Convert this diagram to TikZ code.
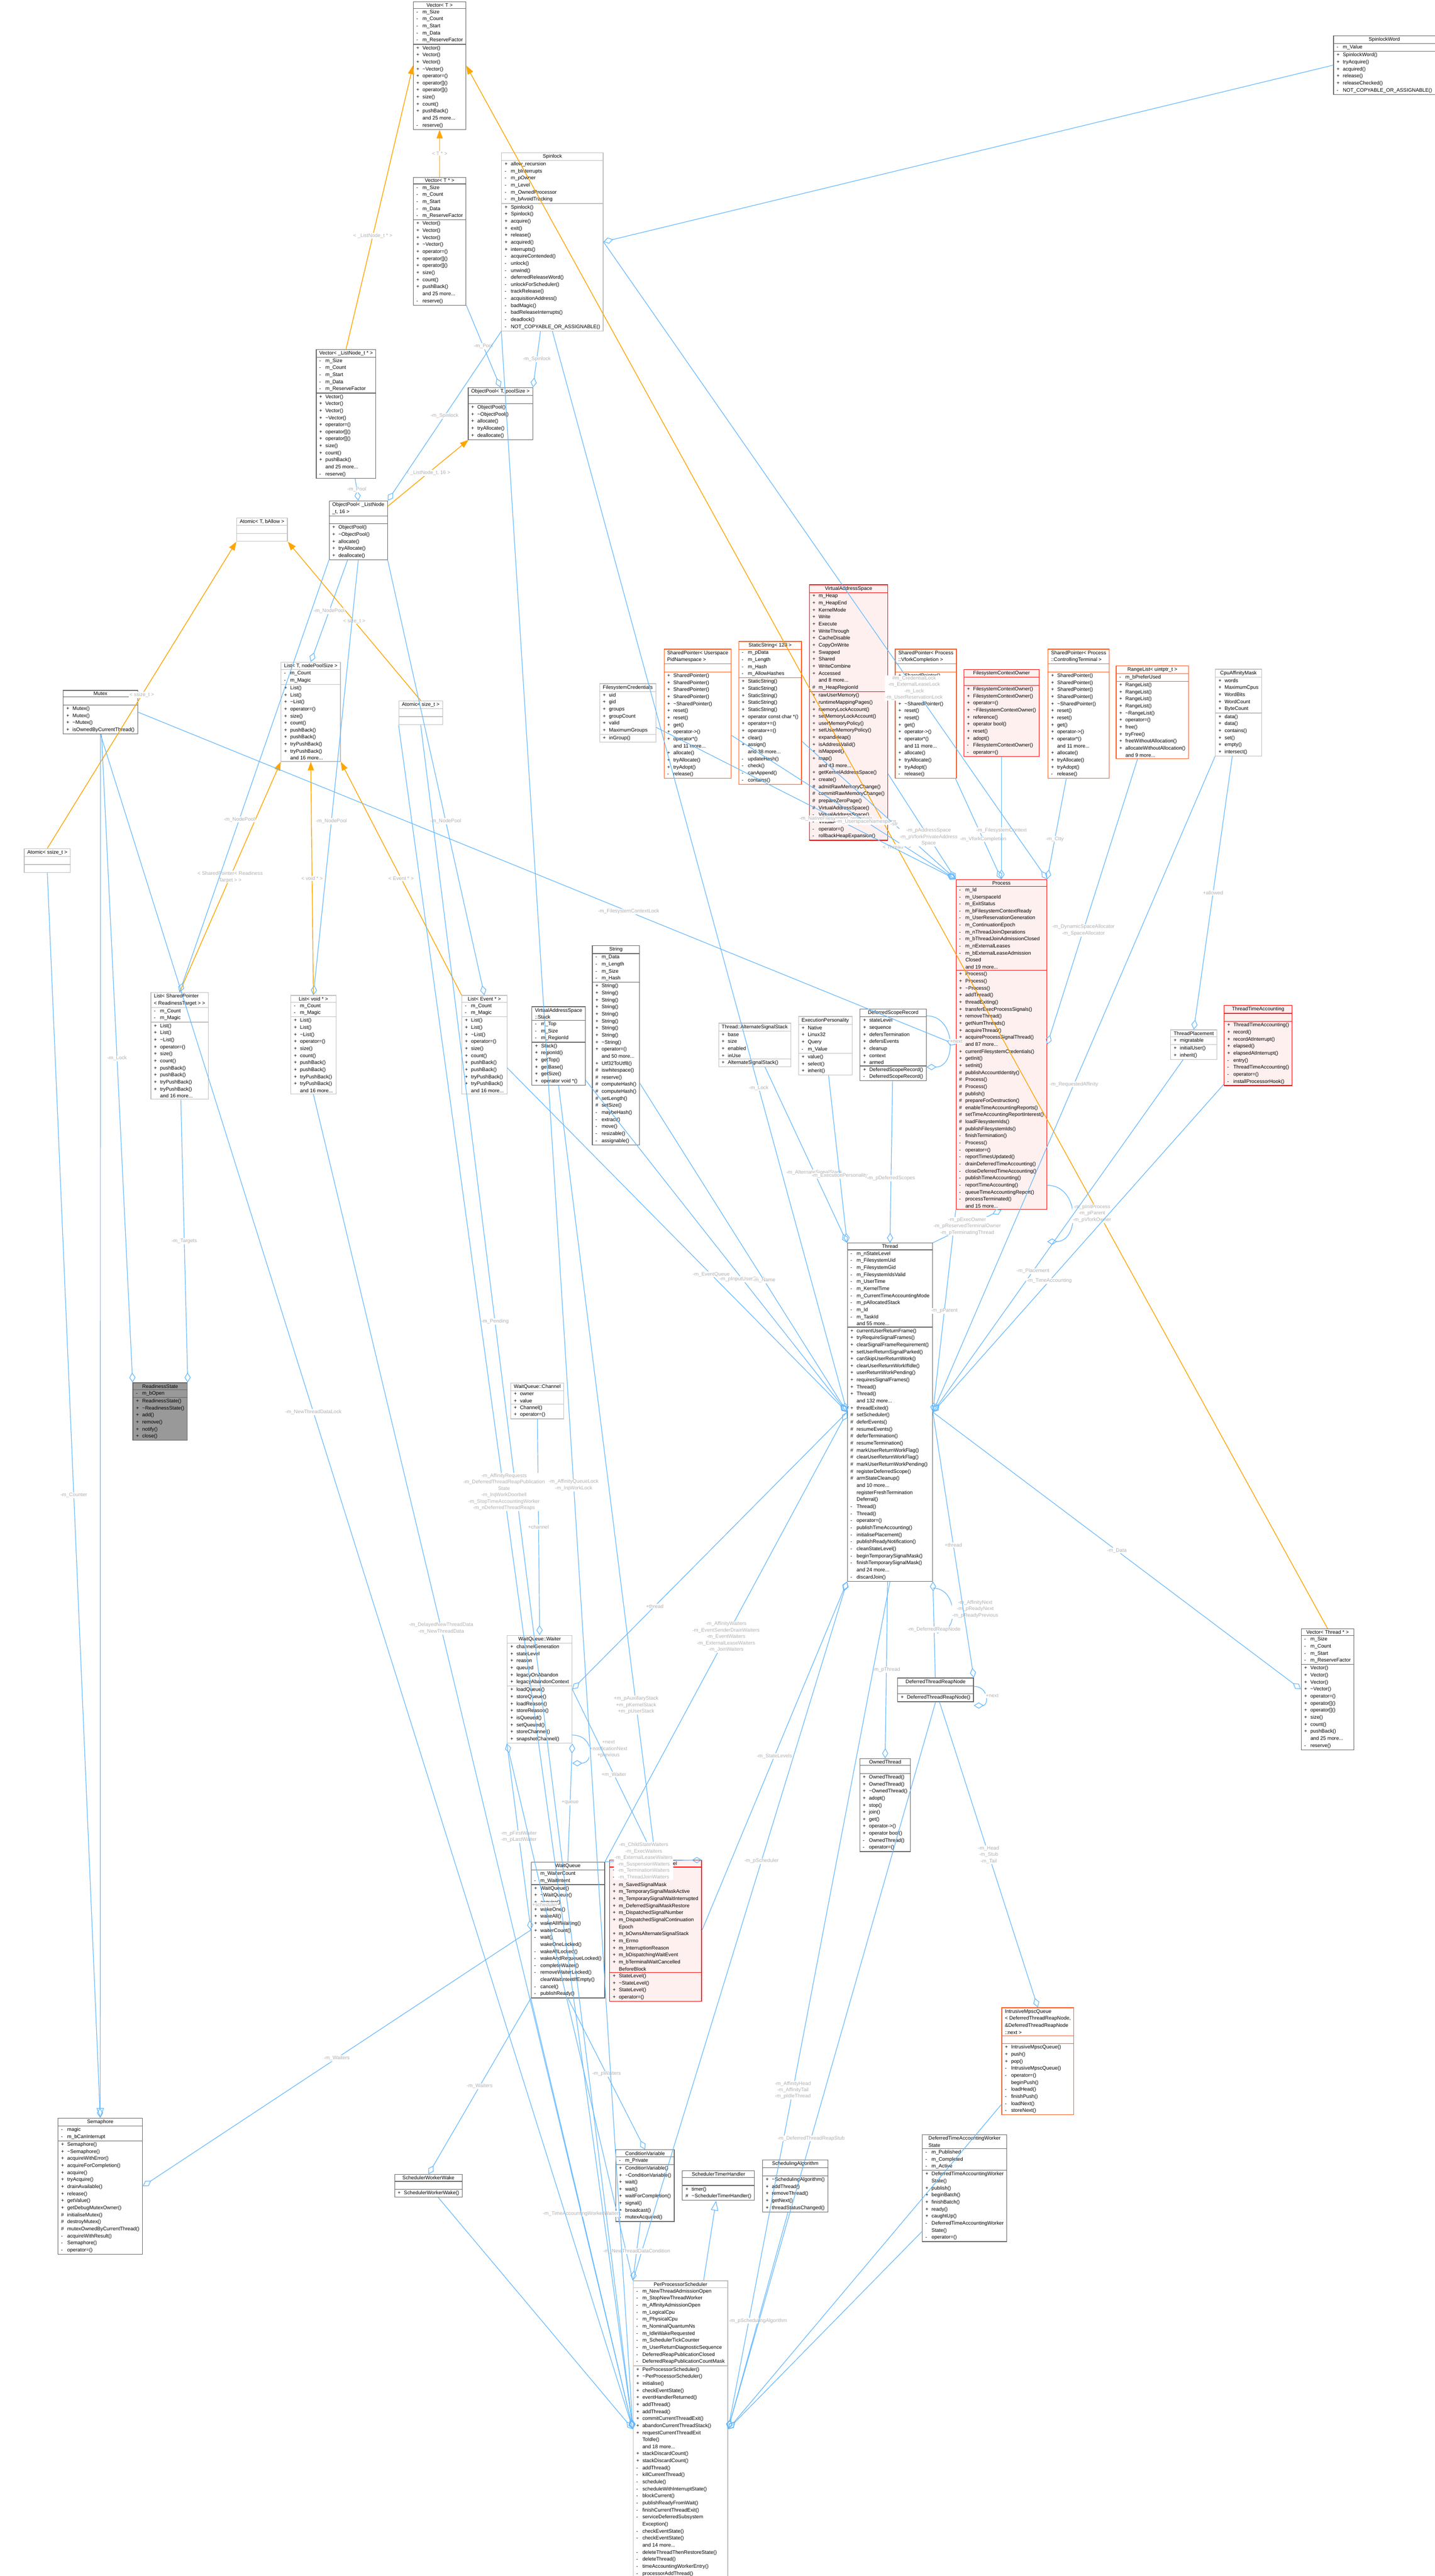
\documentclass[tikz,border=0pt]{standalone}
\usepackage{fontspec}
\setmainfont{Liberation Sans}
\usepackage{tikz}
\usepackage{xcolor}
\usetikzlibrary{arrows.meta, positioning, shapes.multipart}

\definecolor{edgeblue}{HTML}{63B8FF}
\definecolor{boxdark}{HTML}{666666}
\definecolor{boxlight}{HTML}{BFBFBF}
\definecolor{labelgray}{HTML}{B0B0B0}
\definecolor{pinkfill}{HTML}{FFF0F0}
\definecolor{tmplorange}{HTML}{FFA500}
\definecolor{orangeline}{HTML}{FF5A1F}

\catcode`\_=12
\newcommand{\vP}{\makebox[5pt][l]{+}}
\newcommand{\vM}{\makebox[5pt][l]{-}}
\newcommand{\vH}{\makebox[5pt][l]{\#}}
\newcommand{\vN}{\hspace*{5pt}}
\newcommand{\tld}{\textasciitilde}
\newcommand{\emptypart}{\rule{0pt}{4pt}}
% class box: [style]{name}{x px}{y px}{title}{attributes}{methods}
\newcommand{\umlbox}[7][]{%
  \node[umlclass,#1] (#2) at (#3/100,-#4/100) {#5\nodepart{two}#6\nodepart{three}#7};}

\tikzset{
  umlclass/.style={rectangle split, rectangle split parts=3, draw=boxdark,
    anchor=north west, align=left, rectangle split part align={center,left,left},
    font=\fontsize{4.1}{5.69}\selectfont, inner xsep=2.5pt, inner ysep=1pt, line width=0.5pt},
  light/.style={draw=boxlight},
  redbox/.style={draw=red, fill=pinkfill},
  orangebox/.style={draw=orangeline},
  rootbox/.style={fill=black!40, draw=boxdark},
  agg/.style={draw=edgeblue, line width=0.5pt, -{Diamond[open,length=8pt,width=5pt]}},
  tmpl/.style={draw=tmplorange, line width=0.6pt, -{Triangle[length=7pt,width=5pt]}},
  inh/.style={draw=edgeblue, line width=0.5pt, -{Triangle[open,length=8pt,width=6pt]}},
  elabel/.style={font=\fontsize{4.1}{5.2}\selectfont, text=labelgray, align=center, fill=white, inner sep=0.5pt}
}

\begin{document}
\begin{tikzpicture}
    \fill[white] (0,0) rectangle (40.79,-73.21);
    \useasboundingbox (0,0) rectangle (40.79,-73.21);

    % Containers and templates
    \umlbox{vecT}{1174}{4}{Vector< T >}{\vM m_Size\\\vM m_Count\\\vM m_Start\\\vM m_Data\\\vM m_ReserveFactor}{\vP Vector()\\\vP Vector()\\\vP Vector()\\\vP \tld Vector()\\\vP operator=()\\\vP operator[]()\\\vP operator[]()\\\vP size()\\\vP count()\\\vP pushBack()\\\vN and 25 more...\\\vM reserve()}
    \umlbox{vecTp}{1174}{503}{Vector< T * >}{\vM m_Size\\\vM m_Count\\\vM m_Start\\\vM m_Data\\\vM m_ReserveFactor}{\vP Vector()\\\vP Vector()\\\vP Vector()\\\vP \tld Vector()\\\vP operator=()\\\vP operator[]()\\\vP operator[]()\\\vP size()\\\vP count()\\\vP pushBack()\\\vN and 25 more...\\\vM reserve()}
    \umlbox{vecLN}{898}{992}{Vector< _ListNode_t * >}{\vM m_Size\\\vM m_Count\\\vM m_Start\\\vM m_Data\\\vM m_ReserveFactor}{\vP Vector()\\\vP Vector()\\\vP Vector()\\\vP \tld Vector()\\\vP operator=()\\\vP operator[]()\\\vP operator[]()\\\vP size()\\\vP count()\\\vP pushBack()\\\vN and 25 more...\\\vM reserve()}
    \umlbox{vecThr}{3698}{4628}{Vector< Thread * >}{\vM m_Size\\\vM m_Count\\\vM m_Start\\\vM m_ReserveFactor}{\vP Vector()\\\vP Vector()\\\vP Vector()\\\vP \tld Vector()\\\vP operator=()\\\vP operator[]()\\\vP operator[]()\\\vP size()\\\vP count()\\\vP pushBack()\\\vN and 25 more...\\\vM reserve()}
    \umlbox[light]{spin}{1425}{433}{Spinlock}{\vP allow_recursion\\\vM m_bInterrupts\\\vM m_pOwner\\\vM m_Level\\\vM m_OwnedProcessor\\\vM m_bAvoidTracking}{\vP Spinlock()\\\vP Spinlock()\\\vP acquire()\\\vP exit()\\\vP release()\\\vP acquired()\\\vP interrupts()\\\vM acquireContended()\\\vM unlock()\\\vM unwind()\\\vM deferredReleaseWord()\\\vM unlockForScheduler()\\\vM trackRelease()\\\vM acquisitionAddress()\\\vM badMagic()\\\vM badReleaseInterrupts()\\\vM deadlock()\\\vM NOT_COPYABLE_OR_ASSIGNABLE()}
    \umlbox{spinWord}{3790}{101}{SpinlockWord}{\vM m_Value}{\vP SpinlockWord()\\\vP tryAcquire()\\\vP acquired()\\\vP release()\\\vP releaseChecked()\\\vM NOT_COPYABLE_OR_ASSIGNABLE()}
    \umlbox{poolT}{1330}{1101}{ObjectPool< T, poolSize >}{\emptypart}{\vP ObjectPool()\\\vP \tld ObjectPool()\\\vP allocate()\\\vP tryAllocate()\\\vP deallocate()}
    \umlbox{poolLN}{935}{1423}{ObjectPool< _ListNode\\_t, 16 >}{\emptypart}{\vP ObjectPool()\\\vP \tld ObjectPool()\\\vP allocate()\\\vP tryAllocate()\\\vP deallocate()}
    \umlbox[light]{atomT}{672}{1471}{Atomic< T, bAllow >}{\emptypart}{\emptypart}
    \umlbox[light]{atomZ}{1133}{1991}{Atomic< size_t >}{\emptypart}{\emptypart}
    \umlbox[light]{atomS}{68}{2411}{Atomic< ssize_t >}{\emptypart}{\emptypart}
    \umlbox[light]{listT}{798}{1881}{List< T, nodePoolSize >}{\vM m_Count\\\vM m_Magic}{\vP List()\\\vP List()\\\vP \tld List()\\\vP operator=()\\\vP size()\\\vP count()\\\vP pushBack()\\\vP pushBack()\\\vP tryPushBack()\\\vP tryPushBack()\\\vN and 16 more...}
    \umlbox[light]{listSP}{428}{2820}{List< SharedPointer\\< ReadinessTarget > >}{\vM m_Count\\\vM m_Magic}{\vP List()\\\vP List()\\\vP \tld List()\\\vP operator=()\\\vP size()\\\vP count()\\\vP pushBack()\\\vP pushBack()\\\vP tryPushBack()\\\vP tryPushBack()\\\vN and 16 more...}
    \umlbox[light]{listV}{826}{2828}{List< void * >}{\vM m_Count\\\vM m_Magic}{\vP List()\\\vP List()\\\vP \tld List()\\\vP operator=()\\\vP size()\\\vP count()\\\vP pushBack()\\\vP pushBack()\\\vP tryPushBack()\\\vP tryPushBack()\\\vN and 16 more...}
    \umlbox[light]{listE}{1312}{2828}{List< Event * >}{\vM m_Count\\\vM m_Magic}{\vP List()\\\vP List()\\\vP \tld List()\\\vP operator=()\\\vP size()\\\vP count()\\\vP pushBack()\\\vP pushBack()\\\vP tryPushBack()\\\vP tryPushBack()\\\vN and 16 more...}
    \umlbox{mutex}{179}{1961}{Mutex}{\emptypart}{\vP Mutex()\\\vP Mutex()\\\vP \tld Mutex()\\\vP isOwnedByCurrentThread()}
    \umlbox[rootbox]{ready}{377}{3929}{ReadinessState}{\vM m_bOpen}{\vP ReadinessState()\\\vP \tld ReadinessState()\\\vP add()\\\vP remove()\\\vP notify()\\\vP close()}

    % Process and its members
    \umlbox[light]{fsCred}{1704}{1942}{FilesystemCredentials}{\vP uid\\\vP gid\\\vP groups\\\vP groupCount\\\vP valid\\\vP MaximumGroups}{\vP inGroup()}
    \umlbox[orangebox]{spPid}{1887}{1844}{SharedPointer< Userspace\\PidNamespace >}{\emptypart}{\vP SharedPointer()\\\vP SharedPointer()\\\vP SharedPointer()\\\vP SharedPointer()\\\vP \tld SharedPointer()\\\vP reset()\\\vP reset()\\\vP get()\\\vP operator->()\\\vP operator*()\\\vN and 11 more...\\\vP allocate()\\\vP tryAllocate()\\\vP tryAdopt()\\\vM release()}
    \umlbox[orangebox]{statStr}{2099}{1822}{StaticString< 128 >}{\vM m_pData\\\vM m_Length\\\vM m_Hash\\\vM m_AllowHashes}{\vP StaticString()\\\vP StaticString()\\\vP StaticString()\\\vP StaticString()\\\vP StaticString()\\\vP operator const char *()\\\vP operator+=()\\\vP operator+=()\\\vP clear()\\\vP assign()\\\vN and 38 more...\\\vM updateHash()\\\vM check()\\\vM canAppend()\\\vM contains()}
    \umlbox[redbox]{vas}{2300}{1661}{VirtualAddressSpace}{\vP m_Heap\\\vP m_HeapEnd\\\vP KernelMode\\\vP Write\\\vP Execute\\\vP WriteThrough\\\vP CacheDisable\\\vP CopyOnWrite\\\vP Swapped\\\vP Shared\\\vP WriteCombine\\\vP Accessed\\\vN and 8 more...\\\vH m_HeapRegionId}{\vP rawUserMemory()\\\vP runtimeMappingPages()\\\vP memoryLockAccount()\\\vP setMemoryLockAccount()\\\vP userMemoryPolicy()\\\vP setUserMemoryPolicy()\\\vP expandHeap()\\\vP isAddressValid()\\\vP isMapped()\\\vP map()\\\vN and 43 more...\\\vP getKernelAddressSpace()\\\vP create()\\\vH admitRawMemoryChange()\\\vH commitRawMemoryChange()\\\vH prepareZeroPage()\\\vH VirtualAddressSpace()\\\vM VirtualAddressSpace()\\\vM VirtualAddressSpace()\\\vM operator=()\\\vM rollbackHeapExpansion()}
    \umlbox[orangebox]{spVfork}{2544}{1844}{SharedPointer< Process\\::VforkCompletion >}{\emptypart}{\vP SharedPointer()\\\vP SharedPointer()\\\vP SharedPointer()\\\vP SharedPointer()\\\vP \tld SharedPointer()\\\vP reset()\\\vP reset()\\\vP get()\\\vP operator->()\\\vP operator*()\\\vN and 11 more...\\\vP allocate()\\\vP tryAllocate()\\\vP tryAdopt()\\\vM release()}
    \umlbox[redbox]{fsOwner}{2739}{1902}{FilesystemContextOwner}{\emptypart}{\vP FilesystemContextOwner()\\\vP FilesystemContextOwner()\\\vP operator=()\\\vP \tld FilesystemContextOwner()\\\vP reference()\\\vP operator bool()\\\vP reset()\\\vP adopt()\\\vM FilesystemContextOwner()\\\vM operator=()}
    \umlbox[orangebox]{spCtty}{2978}{1844}{SharedPointer< Process\\::ControllingTerminal >}{\emptypart}{\vP SharedPointer()\\\vP SharedPointer()\\\vP SharedPointer()\\\vP SharedPointer()\\\vP \tld SharedPointer()\\\vP reset()\\\vP reset()\\\vP get()\\\vP operator->()\\\vP operator*()\\\vN and 11 more...\\\vP allocate()\\\vP tryAllocate()\\\vP tryAdopt()\\\vM release()}
    \umlbox[orangebox]{range}{3172}{1891}{RangeList< uintptr_t >}{\vM m_bPreferUsed}{\vP RangeList()\\\vP RangeList()\\\vP RangeList()\\\vP RangeList()\\\vP \tld RangeList()\\\vP operator=()\\\vP free()\\\vP tryFree()\\\vP freeWithoutAllocation()\\\vP allocateWithoutAllocation()\\\vN and 9 more...}
    \umlbox[light]{cpuMask}{3454}{1901}{CpuAffinityMask}{\vP words\\\vP MaximumCpus\\\vP WordBits\\\vP WordCount\\\vP ByteCount}{\vP data()\\\vP data()\\\vP contains()\\\vP set()\\\vP empty()\\\vP intersect()}
    \umlbox[redbox]{proc}{2717}{2499}{Process}{\vM m_Id\\\vM m_UserspaceId\\\vM m_ExitStatus\\\vM m_bFilesystemContextReady\\\vM m_UserReservationGeneration\\\vM m_ContinuationEpoch\\\vM m_nThreadJoinOperations\\\vM m_bThreadJoinAdmissionClosed\\\vM m_nExternalLeases\\\vM m_bExternalLeaseAdmission\\\vN Closed\\\vN and 19 more...}{\vP Process()\\\vP Process()\\\vP \tld Process()\\\vP addThread()\\\vP threadExiting()\\\vP transferExecProcessSignals()\\\vP removeThread()\\\vP getNumThreads()\\\vP acquireThread()\\\vP acquireProcessSignalThread()\\\vN and 87 more...\\\vP currentFilesystemCredentials()\\\vP getInit()\\\vP setInit()\\\vH publishAccountIdentity()\\\vH Process()\\\vH Process()\\\vH publish()\\\vH prepareForDestruction()\\\vH enableTimeAccountingReports()\\\vH setTimeAccountingReportInterest()\\\vH loadFilesystemIds()\\\vH publishFilesystemIds()\\\vM finishTermination()\\\vM Process()\\\vM operator=()\\\vM reportTimesUpdated()\\\vM drainDeferredTimeAccounting()\\\vM closeDeferredTimeAccounting()\\\vM publishTimeAccounting()\\\vM reportTimeAccounting()\\\vM queueTimeAccountingReport()\\\vM processTerminated()\\\vN and 15 more...}
    \umlbox[light]{placement}{3327}{2926}{ThreadPlacement}{\vP migratable}{\vP initialUser()\\\vP inherit()}
    \umlbox[redbox]{timeAcc}{3479}{2857}{ThreadTimeAccounting}{\emptypart}{\vP ThreadTimeAccounting()\\\vP record()\\\vP recordAtInterrupt()\\\vP elapsed()\\\vP elapsedAtInterrupt()\\\vM entry()\\\vM ThreadTimeAccounting()\\\vM operator=()\\\vM installProcessorHook()}

    % Thread and its members
    \umlbox{vStack}{1511}{2860}{VirtualAddressSpace\\::Stack}{\vM m_Top\\\vM m_Size\\\vM m_RegionId}{\vP Stack()\\\vP regionId()\\\vP getTop()\\\vP getBase()\\\vP getSize()\\\vP operator void *()}
    \umlbox{str}{1683}{2687}{String}{\vM m_Data\\\vM m_Length\\\vM m_Size\\\vM m_Hash}{\vP String()\\\vP String()\\\vP String()\\\vP String()\\\vP String()\\\vP String()\\\vP String()\\\vP String()\\\vP \tld String()\\\vP operator=()\\\vN and 50 more...\\\vP Utf32ToUtf8()\\\vH iswhitespace()\\\vH reserve()\\\vH computeHash()\\\vH computeHash()\\\vH setLength()\\\vH setSize()\\\vM maybeHash()\\\vM extract()\\\vM move()\\\vM resizable()\\\vM assignable()}
    \umlbox[light]{altStack}{2042}{2907}{Thread::AlternateSignalStack}{\vP base\\\vP size\\\vP enabled\\\vP inUse}{\vP AlternateSignalStack()}
    \umlbox[light]{execPers}{2269}{2888}{ExecutionPersonality}{\vP Native\\\vP Linux32\\\vP Query\\\vM m_Value}{\vP value()\\\vP select()\\\vP inherit()}
    \umlbox{scopeRec}{2444}{2867}{DeferredScopeRecord}{\vP stateLevel\\\vP sequence\\\vP defersTermination\\\vP defersEvents\\\vP cleanup\\\vP context\\\vP armed}{\vP DeferredScopeRecord()\\\vM DeferredScopeRecord()}
    \umlbox{thread}{2408}{3532}{Thread}{\vM m_nStateLevel\\\vM m_FilesystemUid\\\vM m_FilesystemGid\\\vM m_FilesystemIdsValid\\\vM m_UserTime\\\vM m_KernelTime\\\vM m_CurrentTimeAccountingMode\\\vM m_pAllocatedStack\\\vM m_Id\\\vM m_TaskId\\\vN and 55 more...}{\vP currentUserReturnFrame()\\\vP tryRequireSignalFrames()\\\vP clearSignalFrameRequirement()\\\vP setUserReturnSignalParked()\\\vP canSkipUserReturnWork()\\\vP clearUserReturnWorkIfIdle()\\\vP userReturnWorkPending()\\\vP requiresSignalFrames()\\\vP Thread()\\\vP Thread()\\\vN and 132 more...\\\vP threadExited()\\\vH setScheduler()\\\vH deferEvents()\\\vH resumeEvents()\\\vH deferTermination()\\\vH resumeTermination()\\\vH markUserReturnWorkFlag()\\\vH clearUserReturnWorkFlag()\\\vH markUserReturnWorkPending()\\\vH registerDeferredScope()\\\vH armStateCleanup()\\\vN and 10 more...\\\vN registerFreshTermination\\\vN Deferral()\\\vM Thread()\\\vM Thread()\\\vM operator=()\\\vM publishTimeAccounting()\\\vM initialisePlacement()\\\vM publishReadyNotification()\\\vM cleanStateLevel()\\\vM beginTemporarySignalMask()\\\vM finishTemporarySignalMask()\\\vN and 24 more...\\\vM discardJoin()}
    \umlbox{reapNode}{2551}{4768}{DeferredThreadReapNode}{\emptypart}{\vP DeferredThreadReapNode()}
    \umlbox{owned}{2443}{4997}{OwnedThread}{\emptypart}{\vP OwnedThread()\\\vP OwnedThread()\\\vP \tld OwnedThread()\\\vP adopt()\\\vP stop()\\\vP join()\\\vP get()\\\vP operator->()\\\vP operator bool()\\\vM OwnedThread()\\\vM operator=()}
    \umlbox[orangebox]{mpsc}{2847}{5705}{IntrusiveMpscQueue\\< DeferredThreadReapNode,\\ \&DeferredThreadReapNode\\::next >}{\emptypart}{\vP IntrusiveMpscQueue()\\\vP push()\\\vP pop()\\\vM IntrusiveMpscQueue()\\\vM operator=()\\\vN beginPush()\\\vM loadHead()\\\vM finishPush()\\\vM loadNext()\\\vM storeNext()}

    % Waiting
    \umlbox[light]{channel}{1451}{3930}{WaitQueue::Channel}{\vP owner\\\vP value}{\vP Channel()\\\vP operator=()}
    \umlbox[light]{waiter}{1441}{4647}{WaitQueue::Waiter}{\vP channelGeneration\\\vP stateLevel\\\vP reason\\\vP queued\\\vP legacyOnAbandon\\\vP legacyAbandonContext}{\vP loadQueue()\\\vP storeQueue()\\\vP loadReason()\\\vP storeReason()\\\vP isQueued()\\\vP setQueued()\\\vP storeChannel()\\\vP snapshotChannel()}
    \umlbox{waitQ}{1509}{5291}{WaitQueue}{\vN m_WaiterCount\\\vM m_WaitIntent}{\vP WaitQueue()\\\vP \tld WaitQueue()\\\vP acquire()\\\vP wakeOne()\\\vP wakeAll()\\\vP wakeAllIfWaiting()\\\vP waiterCount()\\\vM wait()\\\vN wakeOneLocked()\\\vM wakeAllLocked()\\\vM wakeAndRequeueLocked()\\\vM completeWaiter()\\\vM removeWaiterLocked()\\\vN clearWaitIntentIfEmpty()\\\vM cancel()\\\vM publishReady()}
    \umlbox[redbox]{stateLvl}{1732}{5286}{Thread::StateLevel}{\vP m_State\\\vP m_SignalMask\\\vP m_SavedSignalMask\\\vP m_TemporarySignalMaskActive\\\vP m_TemporarySignalWaitInterrupted\\\vP m_DeferredSignalMaskRestore\\\vP m_DispatchedSignalNumber\\\vP m_DispatchedSignalContinuation\\\vN Epoch\\\vP m_bOwnsAlternateSignalStack\\\vP m_Errno\\\vP m_InterruptionReason\\\vP m_bDispatchingWaitEvent\\\vP m_bTerminalWaitCancelled\\\vN BeforeBlock}{\vP StateLevel()\\\vP \tld StateLevel()\\\vP StateLevel()\\\vP operator=()}
    \umlbox{sema}{164}{6019}{Semaphore}{\vM magic\\\vM m_bCanInterrupt}{\vP Semaphore()\\\vP \tld Semaphore()\\\vP acquireWithError()\\\vP acquireForCompletion()\\\vP acquire()\\\vP tryAcquire()\\\vP drainAvailable()\\\vP release()\\\vP getValue()\\\vP getDebugMutexOwner()\\\vH initialiseMutex()\\\vH destroyMutex()\\\vH mutexOwnedByCurrentThread()\\\vM acquireWithResult()\\\vM Semaphore()\\\vM operator=()}
    \umlbox{wake}{1121}{6179}{SchedulerWorkerWake}{\emptypart}{\vP SchedulerWorkerWake()}

    % Scheduler
    \umlbox{condVar}{1750}{6109}{ConditionVariable}{\vM m_Private}{\vP ConditionVariable()\\\vP \tld ConditionVariable()\\\vP wait()\\\vP wait()\\\vP waitForCompletion()\\\vP signal()\\\vP broadcast()\\\vP mutexAcquired()}
    \umlbox{timerHandler}{1939}{6168}{SchedulerTimerHandler}{\emptypart}{\vP timer()\\\vH \tld SchedulerTimerHandler()}
    \umlbox{schedAlgo}{2167}{6138}{SchedulingAlgorithm}{\emptypart}{\vP \tld SchedulingAlgorithm()\\\vP addThread()\\\vP removeThread()\\\vP getNext()\\\vP threadStatusChanged()}
    \umlbox{workerState}{2621}{6066}{DeferredTimeAccountingWorker\\State}{\vM m_Published\\\vM m_Completed\\\vM m_Active}{\vP DeferredTimeAccountingWorker\\\vN State()\\\vP publish()\\\vP beginBatch()\\\vP finishBatch()\\\vP ready()\\\vP caughtUp()\\\vM DeferredTimeAccountingWorker\\\vN State()\\\vM operator=()}
    \umlbox[light]{sched}{1799}{6481}{PerProcessorScheduler}{\vM m_NewThreadAdmissionOpen\\\vM m_StopNewThreadWorker\\\vM m_AffinityAdmissionOpen\\\vM m_LogicalCpu\\\vM m_PhysicalCpu\\\vM m_NominalQuantumNs\\\vM m_IdleWakeRequested\\\vM m_SchedulerTickCounter\\\vM m_UserReturnDiagnosticSequence\\\vM DeferredReapPublicationClosed\\\vM DeferredReapPublicationCountMask}{\vP PerProcessorScheduler()\\\vP \tld PerProcessorScheduler()\\\vP initialise()\\\vP checkEventState()\\\vP eventHandlerReturned()\\\vP addThread()\\\vP addThread()\\\vP commitCurrentThreadExit()\\\vP abandonCurrentThreadStack()\\\vP requestCurrentThreadExit\\\vN ToIdle()\\\vN and 18 more...\\\vP stackDiscardCount()\\\vP stackDiscardCount()\\\vM addThread()\\\vM killCurrentThread()\\\vM schedule()\\\vM scheduleWithInterruptState()\\\vM blockCurrent()\\\vM publishReadyFromWait()\\\vM finishCurrentThreadExit()\\\vM serviceDeferredSubsystem\\\vN Exception()\\\vM checkEventState()\\\vM checkEventState()\\\vN and 14 more...\\\vM deleteThreadThenRestoreState()\\\vM deleteThread()\\\vM timeAccountingWorkerEntry()\\\vM processorAddThread()}

    % Template instances
    \draw[tmpl] (vecTp) -- node[elabel]{< T * >} (vecT);
    \draw[tmpl] (vecLN.north) -- node[elabel,pos=0.4]{< _ListNode_t * >} (vecT.west);
    \draw[tmpl] (vecThr.north) -- node[elabel,pos=0.5]{< Thread * >} (vecT.east);
    \draw[tmpl] (poolLN) -- node[elabel]{< _ListNode_t, 16 >} (poolT);
    \draw[tmpl] (atomS.north) -- node[elabel]{< ssize_t >} (atomT.south west);
    \draw[tmpl] (atomZ.north) -- node[elabel]{< size_t >} (atomT.south east);
    \draw[tmpl] (listSP.north) -- node[elabel]{< SharedPointer< Readiness\\Target > >} (listT.south west);
    \draw[tmpl] (listV.north) -- node[elabel]{< void * >} (listT.south);
    \draw[tmpl] (listE.north west) -- node[elabel]{< Event * >} (listT.south east);

    % Inheritance
    \draw[inh] (sched) -- (timerHandler);
    \draw[inh] (mutex.south) -- (sema.north);

    % Pools and lists
    \draw[agg] (vecTp) -- node[elabel]{-m_Pool} (poolT.north);
    \draw[agg] (spin) -- node[elabel]{-m_Spinlock} (poolT.north east);
    \draw[agg] (vecLN) -- node[elabel]{-m_Pool} (poolLN.north);
    \draw[agg] (spin.south west) -- node[elabel]{-m_Spinlock} (poolLN.north east);
    \draw[agg] (spinWord.west) -- (spin.east);
    \draw[agg] (poolLN) -- node[elabel]{-m_NodePool} (listT.north);
    \draw[agg] (poolLN.south west) -- node[elabel,pos=0.6]{-m_NodePool} (listSP.north);
    \draw[agg] (poolLN.south) -- node[elabel,pos=0.6]{-m_NodePool} (listV.north);
    \draw[agg] (poolLN.south east) -- node[elabel,pos=0.6]{-m_NodePool} (listE.north);
    \draw[agg] (listSP) -- node[elabel]{-m_Targets} (ready.north east);
    \draw[agg] (mutex) -- node[elabel]{-m_Lock} (ready.north west);

    % Process members
    \draw[agg] (fsCred) -- node[elabel,pos=0.6]{-m_NativeFilesystemCredentials} (proc.north west);
    \draw[agg] (spPid) -- node[elabel,pos=0.6]{-m_UserspaceNamespace} (proc.north west);
    \draw[agg] (statStr) -- node[elabel,pos=0.6]{-str} (proc.north west);
    \draw[agg] (vas) -- node[elabel,pos=0.6]{-m_pAddressSpace\\-m_pVforkPrivateAddress\\Space} (proc.north west);
    \draw[agg] (spVfork) -- node[elabel,pos=0.6]{-m_VforkCompletion} (proc.north);
    \draw[agg] (fsOwner) -- node[elabel,pos=0.6]{-m_FilesystemContext} (proc.north);
    \draw[agg] (spCtty) -- node[elabel,pos=0.6]{-m_Ctty} (proc.north east);
    \draw[agg] (range) -- node[elabel,pos=0.6]{-m_DynamicSpaceAllocator\\-m_SpaceAllocator} (proc.east);
    \draw[agg] (spin.east) -- node[elabel,pos=0.7]{\#m_CredentialLock\\-m_ExternalLeaseLock\\-m_Lock\\-m_UserReservationLock} (proc.north east);
    \draw[agg] (mutex.east) -- node[elabel,pos=0.6]{-m_FilesystemContextLock} (proc.west);
    \draw[agg] ([yshift=-4cm]proc.east) to[out=0,in=0,looseness=1.5] node[elabel,right]{-m_pInitProcess\\-m_pParent\\-m_pVforkOwner} ([yshift=-5.6cm]proc.east);
    \draw[agg] (cpuMask) -- node[elabel]{+allowed} (placement.north);
    \draw[agg] (placement) -- node[elabel,pos=0.6]{-m_Placement} (thread.east);
    \draw[agg] (timeAcc) -- node[elabel,pos=0.6]{-m_TimeAccounting} (thread.east);
    \draw[agg] (cpuMask.south west) -- node[elabel,pos=0.5]{-m_RequestedAffinity} (thread.east);

    % Thread members
    \draw[agg] (proc.south west) -- node[elabel]{-m_pParent} (thread.east);
    \draw[agg] (thread.north east) -- node[elabel]{-m_pExecOwner\\-m_pReservedTerminalOwner\\-m_pTerminatingThread} (proc.south);
    \draw[agg] (vStack) -- node[elabel,pos=0.6]{-m_pInputUserStack} (thread.west);
    \draw[agg] (str) -- node[elabel,pos=0.6]{-m_Name} (thread.west);
    \draw[agg] (altStack) -- node[elabel,pos=0.6]{-m_AlternateSignalStack} (thread.north west);
    \draw[agg] (execPers) -- node[elabel,pos=0.6]{-m_ExecutionPersonality} (thread.north west);
    \draw[agg] (scopeRec) -- node[elabel,pos=0.6]{-m_pDeferredScopes} (thread.north);
    \draw[agg] ([yshift=-0.2cm]scopeRec.north east) to[out=0,in=0,looseness=1.5] node[elabel,right]{+next} ([yshift=0.4cm]scopeRec.south east);
    \draw[agg] (listE) -- node[elabel,pos=0.6]{-m_EventQueue} (thread.west);
    \draw[agg] (spin.south) -- node[elabel,pos=0.7]{-m_Lock} (thread.west);
    \draw[agg] ([yshift=-5cm]thread.east) to[out=0,in=0,looseness=1.5] node[elabel,right]{-m_AffinityNext\\-m_pReadyNext\\-m_pReadyPrevious} ([yshift=-6.2cm]thread.east);
    \draw[agg] (thread) -- node[elabel]{-m_pThread} (owned.north);
    \draw[agg] (thread.east) -- node[elabel]{-m_Data} (vecThr.west);
    \draw[agg] (reapNode) -- node[elabel]{-m_DeferredReapNode} (thread.south east);
    \draw[agg] (thread.east) -- node[elabel]{+thread} (reapNode.north east);
    \draw[agg] ([yshift=0.1cm]reapNode.east) to[out=0,in=0,looseness=2] node[elabel,right]{+next} ([yshift=-0.1cm]reapNode.south east);
    \draw[agg] (reapNode) -- node[elabel]{-m_Head\\-m_Stub\\-m_Tail} (mpsc.north);

    % Waiting
    \draw[agg] (channel) -- node[elabel]{+channel} (waiter.north);
    \draw[agg] ([yshift=-1.3cm]waiter.east) to[out=0,in=0,looseness=2] node[elabel,right]{+next\\+notificationNext\\+previous} ([yshift=-2.1cm]waiter.east);
    \draw[agg] (waiter.south west) -- node[elabel]{-m_pFirstWaiter\\-m_pLastWaiter} (waitQ.west);
    \draw[agg] (waitQ.north) -- node[elabel]{+queue} (waiter.south east);
    \draw[agg] (waiter.east) -- node[elabel]{+m_Waiter} (stateLvl.north);
    \draw[agg] (thread.west) -- node[elabel,pos=0.7]{+thread} (waiter.east);
    \draw[agg] (vStack.south) -- node[elabel,pos=0.8]{+m_pAuxillaryStack\\+m_pKernelStack\\+m_pUserStack} (stateLvl.north);
    \draw[agg] (waitQ.north east) -- node[elabel,pos=0.4]{-m_ChildStateWaiters\\-m_ExecWaiters\\-m_ExternalLeaseWaiters\\-m_SuspensionWaiters\\-m_TerminationWaiters\\-m_ThreadJoinWaiters} (stateLvl.north east);
    \draw[agg] (stateLvl.east) -- node[elabel]{-m_StateLevels} (thread.south west);
    \draw[agg] (waitQ.north east) -- node[elabel,pos=0.5]{-m_AffinityWaiters\\-m_EventSenderDrainWaiters\\-m_EventWaiters\\-m_ExternalLeaseWaiters\\-m_JoinWaiters} (thread.west);
    \draw[agg] (atomS.south) -- node[elabel]{-m_Counter} (sema.north);
    \draw[agg] (waitQ.west) -- node[elabel]{-m_Waiters} (sema.east);

    % Scheduler members
    \draw[agg] (thread.south) -- node[elabel,pos=0.6]{-m_AffinityHead\\-m_AffinityTail\\-m_pIdleThread} (sched.east);
    \draw[agg] (sched.north west) -- node[elabel,pos=0.6]{-m_pScheduler} (thread.south west);
    \draw[agg] (sched.north west) -- node[elabel,pos=0.7]{+scheduler} (waiter.south west);
    \draw[agg] (condVar) -- node[elabel]{-m_NewThreadDataCondition} (sched.north west);
    \draw[agg] (schedAlgo) -- node[elabel]{-m_pSchedulingAlgorithm} (sched.east);
    \draw[agg] (workerState) -- (sched.east);
    \draw[agg] (mpsc) -- (sched.east);
    \draw[agg] (reapNode.south) -- node[elabel,pos=0.6]{-m_DeferredThreadReapStub} (sched.east);
    \draw[agg] (wake) -- (sched.west);
    \draw[agg] (waitQ.south west) -- node[elabel]{-m_Waiters} (wake.north);
    \draw[agg] (waitQ.south) -- node[elabel]{-m_pWaiters} (condVar.north);
    \draw[agg] (waitQ.south west) -- node[elabel,pos=0.5]{-m_TimeAccountingWorkerWaiters} (sched.west);
    \draw[agg] (mutex.south) -- node[elabel,pos=0.4]{-m_NewThreadDataLock} (sched.west);
    \draw[agg] (atomZ.south) -- node[elabel,pos=0.35]{-m_Pending} (sched.west);
    \draw[agg] (listV.south) -- node[elabel,pos=0.4]{-m_DelayedNewThreadData\\-m_NewThreadData} (sched.west);
    \draw[agg] (spin.south west) -- node[elabel,pos=0.55]{-m_AffinityQueueLock\\-m_IrqWorkLock} (sched.west);
    \draw[agg] (atomZ.south west) -- node[elabel,pos=0.45]{-m_AffinityRequests\\-m_DeferredThreadReapPublication\\State\\-m_IrqWorkDoorbell\\-m_StopTimeAccountingWorker\\-m_nDeferredThreadReaps} (sched.west);
\end{tikzpicture}
\end{document}
